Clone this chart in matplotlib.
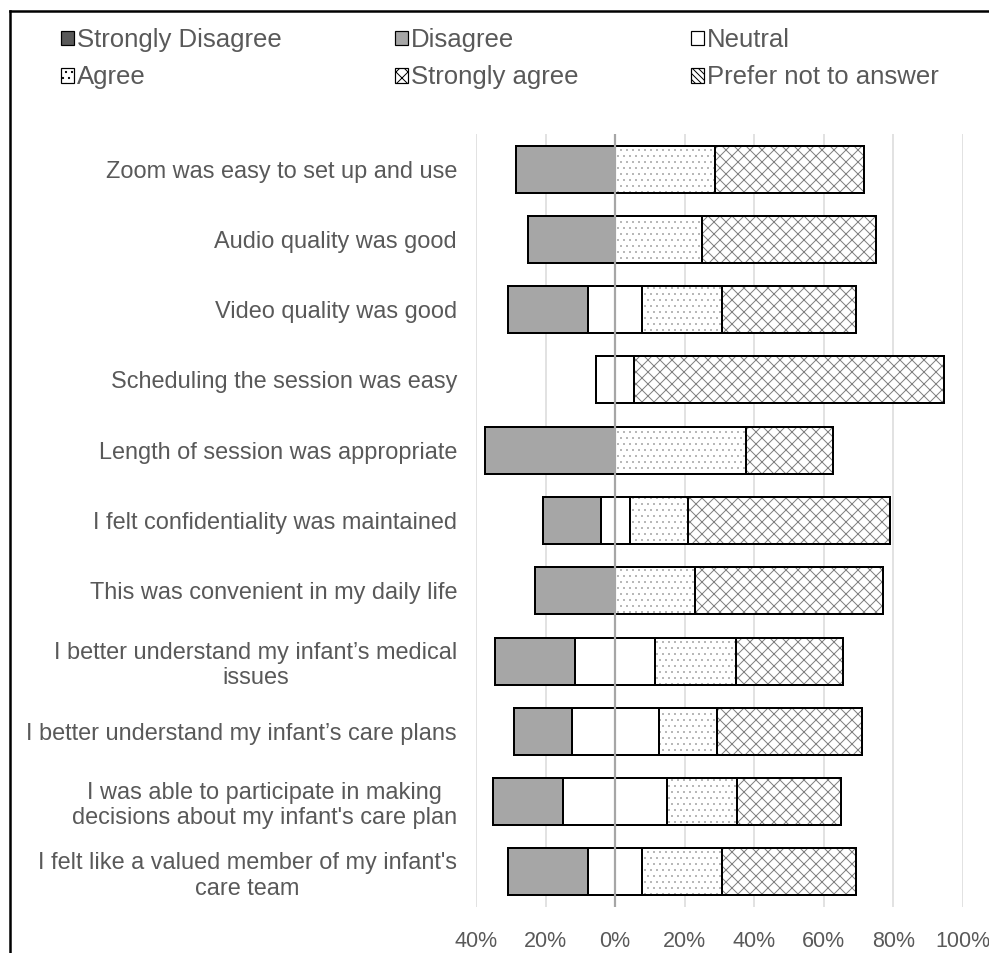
import numpy as np
import matplotlib
matplotlib.use('Agg')
import matplotlib.pyplot as plt
from matplotlib.patches import Patch
from matplotlib.lines import Line2D
from matplotlib.ticker import FuncFormatter

plt.rcParams['font.family'] = ['Liberation Sans', 'DejaVu Sans']
plt.rcParams['hatch.linewidth'] = 1.0

questions = ['Zoom was easy to set up and use',
             'Audio quality was good',
             'Video quality was good',
             'Scheduling the session was easy',
             'Length of session was appropriate',
             'I felt confidentiality was maintained',
             'This was convenient in my daily life',
             'I better understand my infant\u2019s medical\nissues',
             'I better understand my infant\u2019s care plans',
             'I was able to participate in making\ndecisions about my infant\'s care plan',
             'I felt like a valued member of my infant\'s\ncare team']

# percent of responses
strongly_disagree = [0, 0, 0, 0, 0, 0, 0, 0, 0, 0, 0]
disagree = [28.6, 25.0, 23.1, 0, 37.5, 16.7, 23.1, 23.1, 16.7, 20.0, 23.1]
neutral = [0, 0, 15.4, 11.1, 0, 8.3, 0, 23.1, 25.0, 30.0, 15.4]
agree = [28.6, 25.0, 23.1, 0, 37.5, 16.7, 23.1, 23.1, 16.7, 20.0, 23.1]
strongly_agree = [42.9, 50.0, 38.5, 88.9, 25.0, 58.3, 53.8, 30.8, 41.7, 30.0, 38.5]
prefer_not = [0, 0, 0, 0, 0, 0, 0, 0, 0, 0, 0]

xticks = [-40, -20, 0, 20, 40, 60, 80, 100]

txt = '#595959'
# label, fill, hatch, hatch linewidth
styles = [('Strongly Disagree', '#595959', None, 1.0),
          ('Disagree', '#a6a6a6', None, 1.0),
          ('Neutral', 'white', None, 1.0),
          ('Agree', 'white', '..', 0.4),
          ('Strongly agree', 'white', 'xx', 1.0),
          ('Prefer not to answer', 'white', '\\\\\\\\', 1.0)]

dpi = 72
fig = plt.figure(figsize=(989 / dpi, 953 / dpi), dpi=dpi)
ax = fig.add_axes([476 / 989, 46 / 953, 487 / 989, 773 / 953])

series = [strongly_disagree, disagree, neutral, agree, strongly_agree, prefer_not]
data = np.array(series, dtype=float)
y = np.arange(len(questions))
left = -(data[0] + data[1] + data[2] / 2)

for (name, fc, hatch, hlw), vals in zip(styles, data):
    mask = vals > 0
    if mask.any():
        if hatch:
            with plt.rc_context({'hatch.linewidth': hlw}):
                ax.barh(y[mask], vals[mask], left=left[mask], height=0.67, color=fc,
                        hatch=hatch, edgecolor='#808080', linewidth=0, zorder=2)
            ax.barh(y[mask], vals[mask], left=left[mask], height=0.67, fill=False,
                    edgecolor='black', linewidth=2, zorder=3)
        else:
            ax.barh(y[mask], vals[mask], left=left[mask], height=0.67, color=fc,
                    edgecolor='black', linewidth=2, zorder=3)
    left = left + vals

ax.set_xlim(-40, 100)
ax.set_ylim(len(questions) - 0.5, -0.5)
ax.set_xticks(xticks)
ax.xaxis.set_major_formatter(FuncFormatter(lambda v, p: '%d%%' % abs(v)))
ax.set_yticks(y)
ax.set_yticklabels(questions)
for t in ax.get_yticklabels():
    t.set_multialignment('center')
ax.tick_params(axis='both', length=0, labelcolor=txt)
ax.tick_params(axis='y', pad=19, labelsize=23.5)
ax.tick_params(axis='x', pad=24, labelsize=21.5)
for s in ax.spines.values():
    s.set_visible(False)
ax.grid(axis='x', color='#d9d9d9', linewidth=1.5, zorder=0)
ax.set_axisbelow(True)
ax.axvline(0, color='#a6a6a6', linewidth=2.2, zorder=4)

# legend, row-wise order
handles = [Patch(facecolor=fc, edgecolor='black', hatch=h, linewidth=1.2, label=n)
           for n, fc, h, hlw in styles]
order = [0, 3, 1, 4, 2, 5]
fig.legend([handles[i] for i in order], [styles[i][0] for i in order],
           loc='upper left', bbox_to_anchor=(61 / 989, 1 - 28 / 953), ncol=3,
           frameon=False, fontsize=25.7, labelcolor=txt, borderpad=0, borderaxespad=0,
           handlelength=0.5, handleheight=0.5, handletextpad=0.12,
           columnspacing=4.4, labelspacing=0.52)

# frame lines at top and left
fig.add_artist(Line2D([10 / 989, 1], [1 - 11 / 953, 1 - 11 / 953], color='black', linewidth=2.5))
fig.add_artist(Line2D([10 / 989, 10 / 989], [0, 1 - 11 / 953], color='black', linewidth=2.5))

fig.savefig('out.png', dpi=dpi)
